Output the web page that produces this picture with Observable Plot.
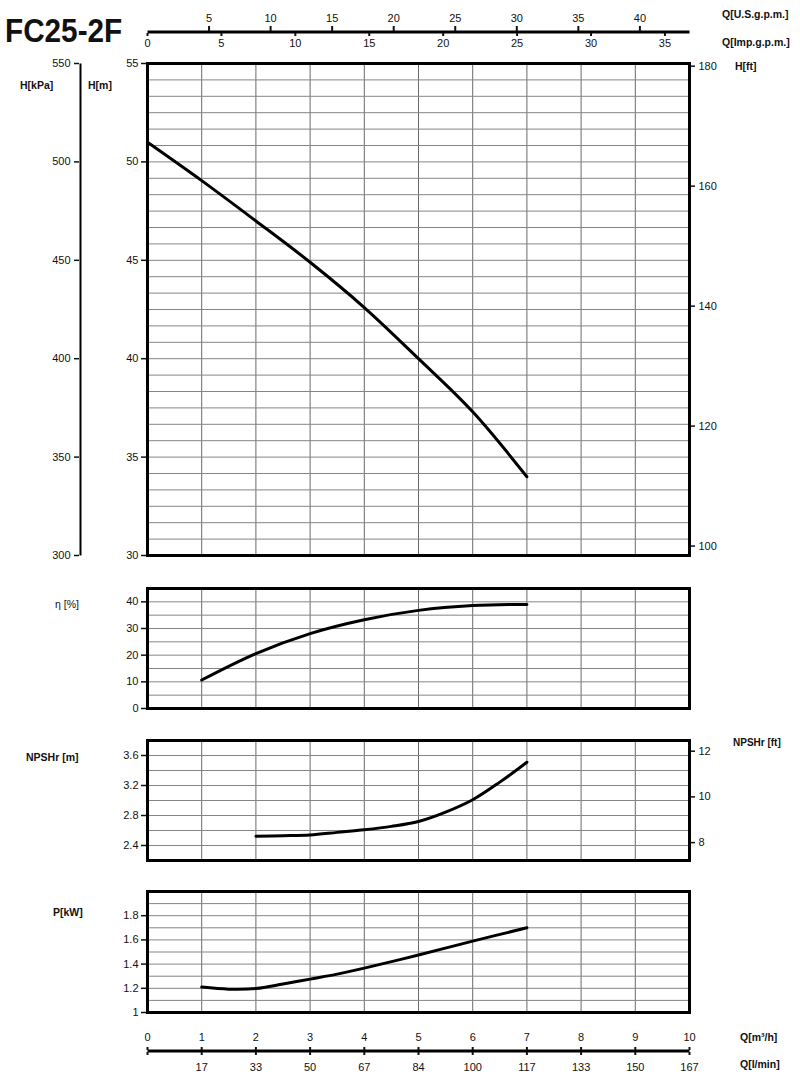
<!DOCTYPE html>
<html><head><meta charset="utf-8">
<script src="https://cdn.jsdelivr.net/npm/d3@7"></script>
<script src="https://cdn.jsdelivr.net/npm/@observablehq/plot@0.6"></script>
<style>
body{margin:0;background:#fff;}
#wrap{position:relative;width:800px;height:1085px;overflow:hidden;font-family:"Liberation Sans",Arial,sans-serif;color:#111;background:#fff}
.lbl{position:absolute;font-weight:bold;font-size:10.5px;line-height:1;transform:translateY(-50%);white-space:nowrap}
#title{position:absolute;left:5px;top:14px;font-family:"Liberation Sans",Arial,sans-serif;font-weight:bold;font-size:33px;line-height:33px;letter-spacing:0;transform:scaleX(0.9);transform-origin:0 0;white-space:nowrap}
</style></head>
<body><div id="wrap"><div id="title">FC25-2F</div></div>
<script>
// ---- data ----
const qHead = [0, 1, 2, 3, 4, 5, 6, 7];
const headM = [51.0, 49.05, 47.0, 44.9, 42.6, 40.0, 37.3, 34.0];
const qEta = [1, 2, 3, 4, 5, 6, 7];
const etaPct = [10.7, 20.6, 28.1, 33.3, 36.8, 38.6, 39.0];
const qNpsh = [2, 2.5, 3, 3.5, 4, 4.5, 5, 5.5, 6, 6.5, 7];
const npshM = [2.524, 2.53, 2.54, 2.575, 2.61, 2.655, 2.72, 2.845, 3.01, 3.245, 3.51];
const qPow = [1, 1.5, 2, 2.5, 3, 3.5, 4, 5, 6, 7];
const powKW = [1.21, 1.193, 1.198, 1.235, 1.276, 1.317, 1.367, 1.475, 1.59, 1.70];

// ---- tick labels ----
const qTicks = [0, 1, 2, 3, 4, 5, 6, 7, 8, 9, 10];
const qGrid = [1, 2, 3, 4, 5, 6, 7, 8, 9];
const lpmLabels = ["", "17", "33", "50", "67", "84", "100", "117", "133", "150", "167"];
const usTicks = [5, 10, 15, 20, 25, 30, 35, 40];
const impTicks = [0, 5, 10, 15, 20, 25, 30, 35];
const hTicks = [30, 35, 40, 45, 50, 55];
const kpaTicks = [300, 350, 400, 450, 500, 550];
const ftTicks = [100, 120, 140, 160, 180];
const etaTicks = [0, 10, 20, 30, 40];
const npshTicks = [2.4, 2.8, 3.2, 3.6];
const npshFtTicks = [8, 10, 12];
const powTicks = [1, 1.2, 1.4, 1.6, 1.8];

const US = 4.4029, IMP = 3.6662, FT = 0.3048;
const hGrid = d3.range(31).map(i => 30 + i * 25 / 30);
const etaGrid = d3.range(5, 45, 5);
const npshGrid = d3.range(8).map(i => 2.4 + i * 0.2);
const powGrid = d3.range(9).map(i => 1.1 + i * 0.1);

const wrap = document.getElementById("wrap");
const st = {fontFamily: "'Liberation Sans', Arial, sans-serif", fontSize: "11px", background: "transparent", overflow: "visible", color: "#111"};
const GRID = "#858585";

function place(svg, top) {
  svg.style.position = "absolute";
  svg.style.top = top + "px";
  svg.style.left = "0px";
  wrap.appendChild(svg);
}
function lab(t, x, y, extra) {
  const d = document.createElement("div");
  d.className = "lbl"; d.textContent = t;
  d.style.left = x + "px"; d.style.top = y + "px";
  if (extra) Object.assign(d.style, extra);
  wrap.appendChild(d);
}
const rows = (xs, ys) => xs.map((x, i) => ({x, y: ys[i]}));
const curve = (xs, ys) => Plot.line(rows(xs, ys), {x: "x", y: "y", stroke: "black", strokeWidth: 3, curve: "catmull-rom"});
const leftAxis = (ticks, fmt) => Plot.axisY(ticks, {anchor: "left", tickSize: 6, tickPadding: 3, strokeWidth: 1.5, label: null, tickFormat: fmt});

function panel(top, height, mt, mb, yDomain, yGrid, marks) {
  return Plot.plot({
    width: 800, height, marginLeft: 147, marginRight: 111, marginTop: mt, marginBottom: mb,
    style: st,
    x: {domain: [0, 10], axis: null},
    y: {domain: yDomain, axis: null},
    marks: [
      Plot.gridX(qGrid, {stroke: "#6a6a6a", strokeOpacity: 1, strokeWidth: 1}),
      Plot.gridY(yGrid, {stroke: GRID, strokeOpacity: 1, strokeWidth: 1}),
      ...marks,
      Plot.frame({stroke: "black", strokeWidth: 3})
    ]
  });
}

// top Q axes (US gpm / Imp gpm)
place(Plot.plot({
  width: 800, height: 50, marginLeft: 147, marginRight: 111, marginTop: 30, marginBottom: 17,
  style: st, x: {domain: [0, 10], axis: null},
  marks: [
    Plot.frame({fill: "black", stroke: null}),
    Plot.axisX(usTicks.map(v => v / US), {anchor: "top", tickSize: 5, tickPadding: 4, strokeWidth: 2, label: null, tickFormat: d => Math.round(d * US)}),
    Plot.axisX(impTicks.map(v => v / IMP), {anchor: "bottom", tickSize: 3, tickPadding: 3, strokeWidth: 2, label: null, tickFormat: d => Math.round(d * IMP)})
  ]
}), 0);

// main head chart
place(panel(50, 530, 13, 25, [30, 55], hGrid, [
  curve(qHead, headM),
  leftAxis(hTicks),
  Plot.axisY(ftTicks.map(f => f * FT), {anchor: "right", tickSize: 5, tickPadding: 4, strokeWidth: 1.5, label: null, tickFormat: d => Math.round(d / FT)})
]), 50);

// kPa axis
place(Plot.plot({
  width: 84, height: 530, marginLeft: 79, marginRight: 3, marginTop: 13, marginBottom: 25,
  style: st, y: {domain: [300, 550], axis: null},
  marks: [
    Plot.frame({fill: "black", stroke: null}),
    Plot.axisY(kpaTicks, {anchor: "left", tickSize: 5, tickPadding: 4, strokeWidth: 1.5, label: null})
  ]
}), 50);

// efficiency
place(panel(575, 145, 13, 12, [0, 45], etaGrid, [
  curve(qEta, etaPct),
  leftAxis(etaTicks)
]), 575);

// NPSH
place(panel(727, 145, 13, 12, [2.2, 3.8], npshGrid, [
  curve(qNpsh, npshM),
  leftAxis(npshTicks, d => d.toFixed(1)),
  Plot.axisY(npshFtTicks.map(f => f * FT), {anchor: "right", tickSize: 5, tickPadding: 4, strokeWidth: 1.5, label: null, tickFormat: d => Math.round(d / FT)})
]), 727);

// power
place(panel(878, 146, 13, 12, [1, 2], powGrid, [
  curve(qPow, powKW),
  leftAxis(powTicks, d => (Math.round(d * 10) / 10).toString())
]), 878);

// bottom Q axes (m3/h, l/min)
place(Plot.plot({
  width: 800, height: 61, marginLeft: 147, marginRight: 111, marginTop: 25, marginBottom: 33,
  style: st, x: {domain: [0, 10], axis: null},
  marks: [
    Plot.frame({fill: "black", stroke: null}),
    Plot.axisX(qTicks, {anchor: "top", tickSize: 3, tickPadding: 6, strokeWidth: 2, label: null, tickFormat: d => String(d)}),
    Plot.axisX(qTicks, {anchor: "bottom", tickSize: 3, tickPadding: 8, strokeWidth: 2, label: null, tickFormat: d => lpmLabels[Math.round(d)]})
  ]
}), 1024);

// unit labels
lab("Q[U.S.g.p.m.]", 722, 14);
lab("Q[Imp.g.p.m.]", 722, 42);
lab("H[kPa]", 20, 85);
lab("H[m]", 88, 85);
lab("H[ft]", 735, 66);
lab("η [%]", 55, 604, {fontWeight: "normal"});
lab("NPSHr [m]", 26, 757);
lab("NPSHr [ft]", 733, 743, {fontSize: "10px"});
lab("P[kW]", 53, 912);
lab("Q[m³/h]", 740, 1037);
lab("Q[l/min]", 740, 1064);
</script>
</body></html>
